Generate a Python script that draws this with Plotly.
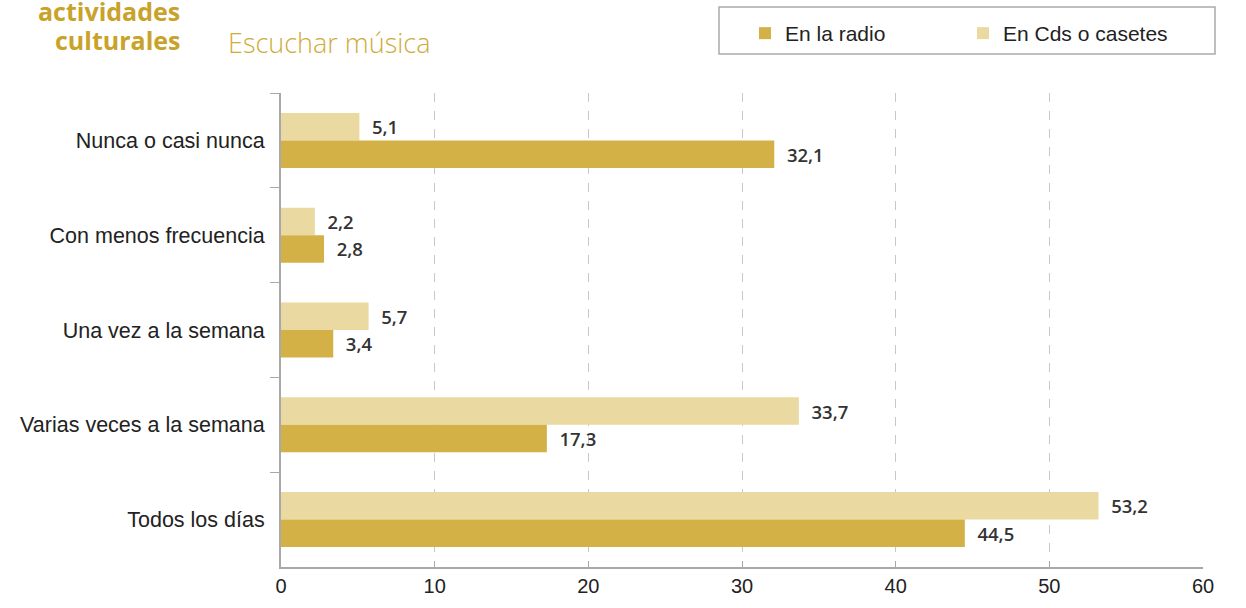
import plotly.graph_objects as go

categories = ["Nunca o casi nunca", "Con menos frecuencia", "Una vez a la semana",
              "Varias veces a la semana", "Todos los días"]
radio = [32.1, 2.8, 3.4, 17.3, 44.5]
cds = [5.1, 2.2, 5.7, 33.7, 53.2]
x_ticks = [0, 10, 20, 30, 40, 50, 60]

C_RADIO = "#D3B146"
C_CDS = "#EAD9A0"
GOLD = "#C9A22A"

W, H = 1246, 608
L, R, T, B = 281, 43, 93, 41
PW, PH = W - L - R, H - T - B

def px(x):
    return (x - L) / PW

def py(y):
    return (H - B - y) / PH

def fmt(v):
    return "  " + f"{v:.1f}".replace(".", ",")

label_font = dict(family="Open Sans", size=18.5, color="#333333", weight=600)

fig = go.Figure()
fig.add_trace(go.Bar(
    y=categories, x=cds, orientation="h", name="En Cds o casetes",
    marker=dict(color=C_CDS, line=dict(width=0)),
    text=[fmt(v) for v in cds], textposition="outside", cliponaxis=False,
    textfont=label_font, legendrank=2,
))
fig.add_trace(go.Bar(
    y=categories, x=radio, orientation="h", name="En la radio",
    marker=dict(color=C_RADIO, line=dict(width=0)),
    text=[fmt(v) for v in radio], textposition="outside", cliponaxis=False,
    textfont=label_font, legendrank=1,
))

fig.update_layout(
    width=W, height=H,
    margin=dict(l=L, r=R, t=T, b=B, autoexpand=False),
    paper_bgcolor="white", plot_bgcolor="white",
    barmode="group", bargap=0.42, bargroupgap=0,
    font=dict(family="Liberation Sans, Arial", size=18, color="#222222"),
    showlegend=True,
    legend=dict(
        orientation="h", x=px(745), y=py(13), xanchor="left", yanchor="top",
        bgcolor="rgba(0,0,0,0)", borderwidth=0,
        font=dict(family="Liberation Sans, Arial", size=21, color="#222222"),
        entrywidth=173, entrywidthmode="pixels", itemwidth=30,
    ),
    xaxis=dict(
        range=[0, 60], tickvals=x_ticks, ticktext=[str(t) for t in x_ticks],
        showgrid=True, gridcolor="#C8C8C8", griddash="dash", gridwidth=1,
        showline=True, linecolor="#A8A8A8", linewidth=2,
        ticks="inside", ticklen=6, tickcolor="#A8A8A8",
        zeroline=False, fixedrange=True,
        tickfont=dict(size=20, color="#222222"),
    ),
    yaxis=dict(
        categoryorder="array", categoryarray=categories, autorange="reversed",
        showline=True, linecolor="#A8A8A8", linewidth=2,
        ticks="outside", ticklen=9, tickcolor="#A8A8A8", tickson="boundaries",
        ticklabelstandoff=10,
        showgrid=False, zeroline=False,
        tickfont=dict(size=21.5, color="#222222"),
    ),
    shapes=[dict(
        type="rect", xref="paper", yref="paper",
        x0=px(719), x1=px(1215), y0=py(7), y1=py(54),
        line=dict(color="#AAAAAA", width=1.5), fillcolor="rgba(0,0,0,0)",
    )],
    annotations=[
        dict(text="<b>actividades</b>", xref="paper", yref="paper",
             x=px(182), y=py(11), xanchor="right", yanchor="middle", showarrow=False,
             font=dict(family="Open Sans", size=25, color=GOLD)),
        dict(text="<b>culturales</b>", xref="paper", yref="paper",
             x=px(182), y=py(40), xanchor="right", yanchor="middle", showarrow=False,
             font=dict(family="Open Sans", size=25, color=GOLD)),
        dict(text="Escuchar música", xref="paper", yref="paper",
             x=px(226), y=py(42), xanchor="left", yanchor="middle", showarrow=False,
             font=dict(family="Open Sans", size=27, color="#CFAB3A", weight=300)),
    ],
)

fig.write_html("out.html", config={"displayModeBar": False},
               post_script="document.body.style.margin='0';document.body.style.overflow='hidden';")
